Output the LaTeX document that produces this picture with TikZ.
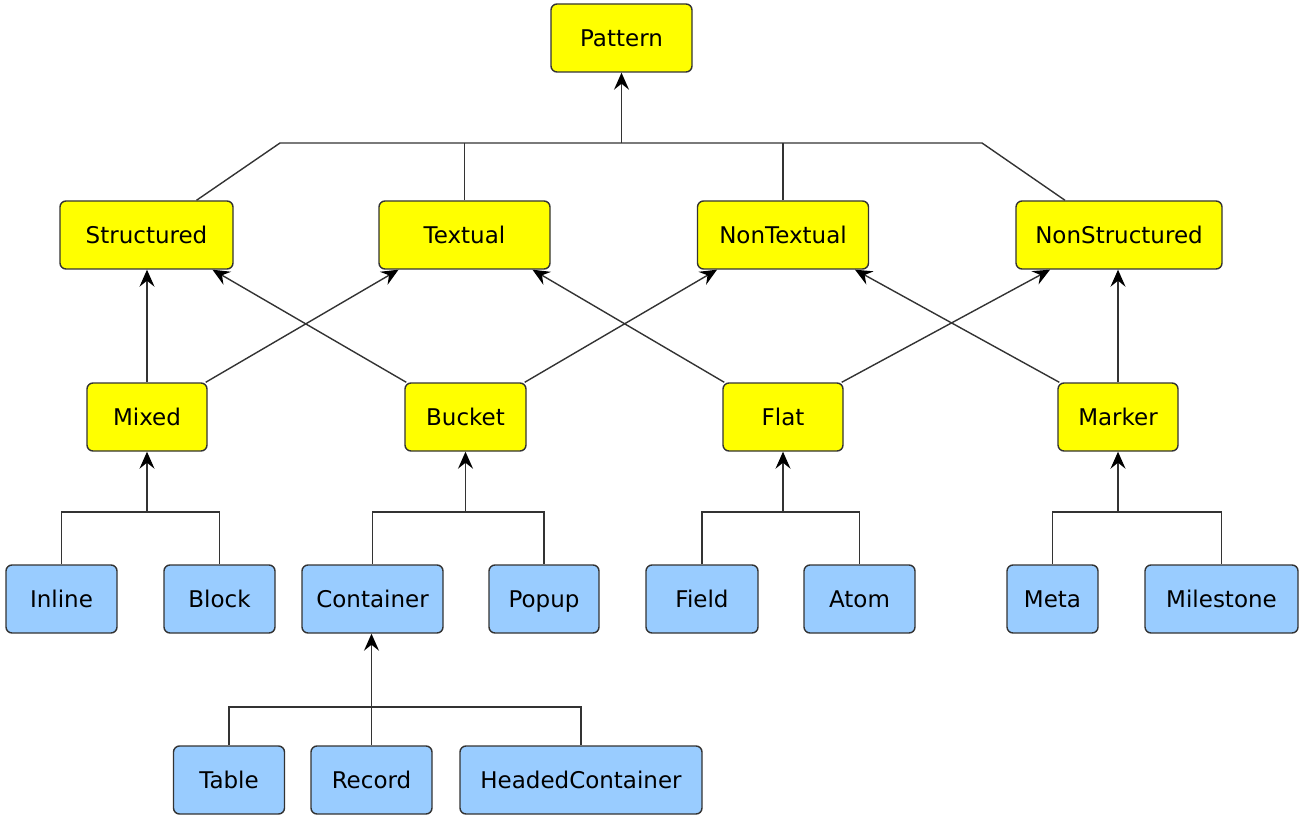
\documentclass[tikz,border=0pt]{standalone}
\usepackage{fontspec}
\setmainfont{DejaVu Sans}
\usetikzlibrary{arrows.meta,backgrounds}
\definecolor{lineC}{HTML}{333333}
\definecolor{ybg}{HTML}{FFFF00}
\definecolor{bbg}{HTML}{99CCFF}
\tikzset{
 box/.style={rectangle, rounded corners=6pt, draw=lineC, line width=1.4pt, minimum height=68pt, inner sep=0pt, text height=17pt, text depth=0pt, font=\fontsize{23}{28}\selectfont, text=black},
 ybox/.style={box, fill=ybg},
 bbox/.style={box, fill=bbg},
 conn/.style={draw=lineC, line width=1.4pt},
 arr/.style={conn, -{Stealth[length=17pt,width=15pt,inset=6pt,color=black,fill=black]}},
}
\begin{document}
\begin{tikzpicture}[x=1pt,y=-1pt]
\useasboundingbox (0,0) rectangle (1311,818);
% yellow nodes
\node[ybox, minimum width=141pt] (pattern) at (621.5,38) {Pattern};
\node[ybox, minimum width=173pt] (structured) at (146.5,235) {Structured};
\node[ybox, minimum width=171pt] (textual) at (464.5,235) {Textual};
\node[ybox, minimum width=171pt] (nontextual) at (783,235) {NonTextual};
\node[ybox, minimum width=206pt] (nonstructured) at (1119,235) {NonStructured};
\node[ybox, minimum width=120pt] (mixed) at (147,417) {Mixed};
\node[ybox, minimum width=121pt] (bucket) at (465.5,417) {Bucket};
\node[ybox, minimum width=120pt] (flat) at (783,417) {Flat};
\node[ybox, minimum width=120pt] (marker) at (1118,417) {Marker};
% blue nodes
\node[bbox, minimum width=111pt] (inline) at (61.5,599) {Inline};
\node[bbox, minimum width=111pt] (block) at (219.5,599) {Block};
\node[bbox, minimum width=141pt] (container) at (372.5,599) {Container};
\node[bbox, minimum width=110pt] (popup) at (544,599) {Popup};
\node[bbox, minimum width=112pt] (field) at (702,599) {Field};
\node[bbox, minimum width=111pt] (atom) at (859.5,599) {Atom};
\node[bbox, minimum width=91pt] (meta) at (1052.5,599) {Meta};
\node[bbox, minimum width=153pt] (milestone) at (1221.5,599) {Milestone};
\node[bbox, minimum width=111pt] (table) at (229,780) {Table};
\node[bbox, minimum width=121pt] (record) at (371.5,780) {Record};
\node[bbox, minimum width=242pt] (headed) at (581,780) {HeadedContainer};
% coordinates
\coordinate (topL) at (280,143);
\coordinate (topR) at (982,143);
\coordinate (topM) at (621.5,143);
\coordinate (busA) at (0,512);
\coordinate (busB) at (0,707);
\begin{pgfonlayer}{background}
\draw[conn] ([xshift=50pt]structured.north) -- (topL) -- (topR) -- ([xshift=-54pt]nonstructured.north);
\draw[conn] (textual.north) -- (textual.north |- topM);
\draw[conn] (nontextual.north) -- (nontextual.north |- topM);
\draw[conn] (inline.north) -- (inline.north |- busA) -- (block.north |- busA) -- (block.north);
\draw[conn] (container.north) -- (container.north |- busA) -- (popup.north |- busA) -- (popup.north);
\draw[conn] (field.north) -- (field.north |- busA) -- (atom.north |- busA) -- (atom.north);
\draw[conn] (meta.north) -- (meta.north |- busA) -- (milestone.north |- busA) -- (milestone.north);
\draw[conn] (table.north) -- (table.north |- busB) -- (headed.north |- busB) -- (headed.north);
\end{pgfonlayer}
\draw[arr] (topM) -- (pattern.south);
\draw[arr] (mixed.north) -- (mixed.north |- structured.south);
\draw[arr] ([xshift=-2pt]mixed.north east) -- ([xshift=-66pt]textual.south);
\draw[arr] ([xshift=2pt]bucket.north west) -- ([xshift=66pt]structured.south);
\draw[arr] ([xshift=-2pt]bucket.north east) -- ([xshift=-66pt]nontextual.south);
\draw[arr] ([xshift=2pt]flat.north west) -- ([xshift=68pt]textual.south);
\draw[arr] ([xshift=-2pt]flat.north east) -- ([xshift=-69pt]nonstructured.south);
\draw[arr] ([xshift=2pt]marker.north west) -- ([xshift=72pt]nontextual.south);
\draw[arr] (marker.north) -- (marker.north |- nonstructured.south);
\draw[arr] (mixed.south |- busA) -- (mixed.south);
\draw[arr] (bucket.south |- busA) -- (bucket.south);
\draw[arr] (flat.south |- busA) -- (flat.south);
\draw[arr] (marker.south |- busA) -- (marker.south);
\draw[arr] (record.north) -- (record.north |- container.south);
\end{tikzpicture}
\end{document}
